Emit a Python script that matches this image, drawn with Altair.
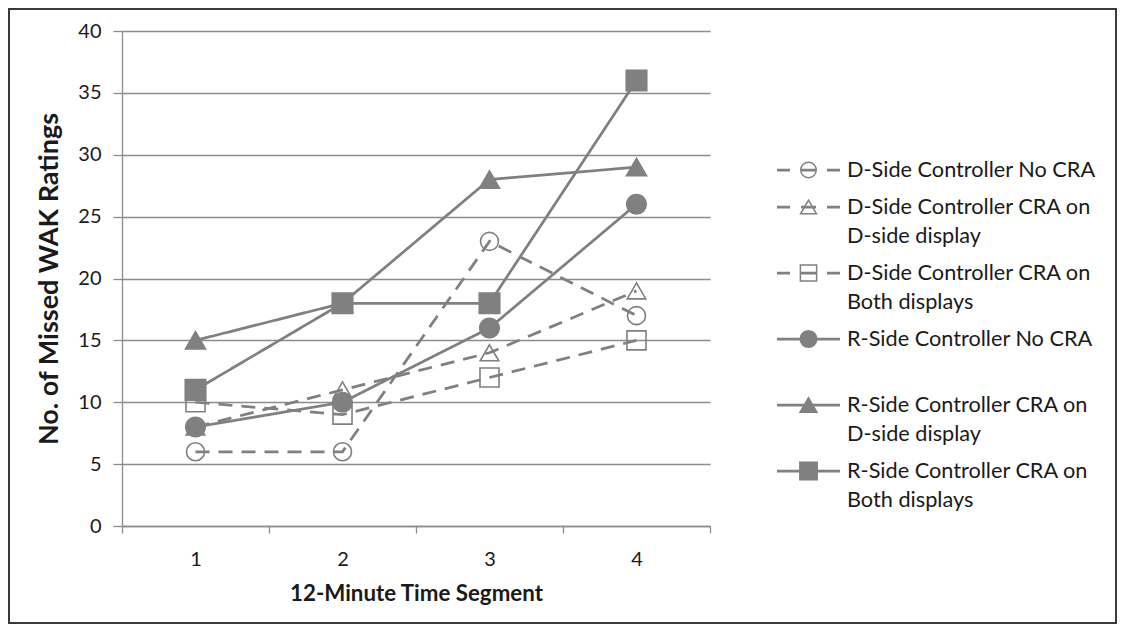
import altair as alt
import pandas as pd

# ---------------- data ----------------
segments = ["1", "2", "3", "4"]
series = [
    "D-Side Controller No CRA",
    "D-Side Controller CRA on D-side display",
    "D-Side Controller CRA on Both displays",
    "R-Side Controller No CRA",
    "R-Side Controller CRA on D-side display",
    "R-Side Controller CRA on Both displays",
]
d_no_cra = [6, 6, 23, 17]
d_cra_dside = [8, 11, 14, 19]
d_cra_both = [10, 9, 12, 15]
r_no_cra = [8, 10, 16, 26]
r_cra_dside = [15, 18, 28, 29]
r_cra_both = [11, 18, 18, 36]
legend_lines = [
    ["D-Side Controller No CRA"],
    ["D-Side Controller CRA on", "D-side display"],
    ["D-Side Controller CRA on", "Both displays"],
    ["R-Side Controller No CRA", ""],
    ["R-Side Controller CRA on", "D-side display"],
    ["R-Side Controller CRA on", "Both displays"],
]
y_ticks = [0, 5, 10, 15, 20, 25, 30, 35, 40]

# ---------------- styles ----------------
GRAY = "#808080"
AXIS_GRAY = "#8c8c8c"
TXT = "#1a1a1a"
FONT = "Lato"
W, H = 588, 495
shapes = ["circle", "triangle-up", "square", "circle", "triangle-up", "square"]
fills = ["transparent"] * 3 + [GRAY] * 3
sizes = [324, 420, 324, 324, 420, 324]
leg_sizes = [240, 300, 240, 240, 300, 240]
dash_plot = [[14, 9]] * 3 + [[1, 0]] * 3
dash_leg = [[13, 11, 15, 11, 13, 300]] * 3 + [[1, 0]] * 3
LEG_TOP, LINE_H, GAP = 139, 29, 8

values = [d_no_cra, d_cra_dside, d_cra_both, r_no_cra, r_cra_dside, r_cra_both]
rows = []
for s, vals in zip(series, values):
    for seg, v in zip(segments, vals):
        rows.append({"series": s, "seg": seg, "value": v})
df = pd.DataFrame(rows)

# legend tables
leg_rows, leg_text = [], []
pos = LEG_TOP
for s, lines in zip(series, legend_lines):
    leg_rows.append({"series": s, "ly": pos, "lx0": 0, "lx1": 1, "lxm": 0.5})
    for i, t in enumerate(lines):
        leg_text.append({"ly": pos + i * LINE_H, "lx": 1, "text": t})
    pos += len(lines) * LINE_H + GAP
leg_df = pd.DataFrame(leg_rows)
leg_text_df = pd.DataFrame(leg_text)

# ---------------- plot ----------------
x_enc = alt.X(
    "seg:O",
    scale=alt.Scale(type="band", domain=segments, paddingInner=0, paddingOuter=0),
    bandPosition=0.5,
    axis=alt.Axis(
        tickBand="extent", labelAngle=0, tickSize=7, labelPadding=16, grid=False,
        domainColor=AXIS_GRAY, tickColor=AXIS_GRAY, domainWidth=1.3, tickWidth=1.3,
        labelFont=FONT, labelFontSize=20, labelColor=TXT,
        title="12-Minute Time Segment", titleFont=FONT, titleFontSize=22.3,
        titleFontWeight="bold", titleColor=TXT, titlePadding=13,
    ),
)
y_enc = alt.Y(
    "value:Q",
    scale=alt.Scale(domain=[0, 40], nice=False),
    axis=alt.Axis(
        values=y_ticks, tickSize=9, labelPadding=12, grid=True,
        gridColor=AXIS_GRAY, gridWidth=1.3, domainColor=AXIS_GRAY, tickColor=AXIS_GRAY,
        domainWidth=1.3, tickWidth=1.3,
        labelFont=FONT, labelFontSize=20, labelColor=TXT,
        title="No. of Missed WAK Ratings", titleFont=FONT, titleFontSize=27,
        titleFontWeight="bold", titleColor=TXT, titlePadding=14,
    ),
)

base = alt.Chart(df)
lines_layer = base.mark_line(color=GRAY, strokeWidth=2.75).encode(
    x=x_enc, y=y_enc, detail="series:N",
    strokeDash=alt.StrokeDash("series:N", scale=alt.Scale(domain=series, range=dash_plot), legend=None),
)
points_layer = base.mark_point(stroke=GRAY, strokeWidth=1.6, opacity=1).encode(
    x=x_enc, y=y_enc,
    shape=alt.Shape("series:N", scale=alt.Scale(domain=series, range=shapes), legend=None),
    fill=alt.Fill("series:N", scale=alt.Scale(domain=series, range=fills), legend=None),
    size=alt.Size("series:N", scale=alt.Scale(domain=series, range=sizes), legend=None),
)
plot = alt.layer(lines_layer, points_layer)

# ---------------- legend ----------------
lx_scale = alt.Scale(domain=[0, 1], range=[655, 718])
ly_scale = alt.Scale(domain=[0, H], range=[0, H])
leg_base = alt.Chart(leg_df)
leg_rule = leg_base.mark_rule(color=GRAY, strokeWidth=2.75).encode(
    x=alt.X("lx0:Q", scale=lx_scale, axis=None),
    x2="lx1:Q",
    y=alt.Y("ly:Q", scale=ly_scale, axis=None),
    strokeDash=alt.StrokeDash("series:N", scale=alt.Scale(domain=series, range=dash_leg), legend=None),
)
leg_pts = leg_base.mark_point(stroke=GRAY, strokeWidth=1.5, opacity=1).encode(
    x=alt.X("lxm:Q", scale=lx_scale, axis=None),
    y=alt.Y("ly:Q", scale=ly_scale, axis=None),
    shape=alt.Shape("series:N", scale=alt.Scale(domain=series, range=shapes), legend=None),
    fill=alt.Fill("series:N", scale=alt.Scale(domain=series, range=fills), legend=None),
    size=alt.Size("series:N", scale=alt.Scale(domain=series, range=leg_sizes), legend=None),
)
leg_txt = alt.Chart(leg_text_df).mark_text(
    align="left", baseline="middle", dx=7, font=FONT, fontSize=21.7, color=TXT
).encode(
    x=alt.X("lx:Q", scale=lx_scale, axis=None),
    y=alt.Y("ly:Q", scale=ly_scale, axis=None),
    text="text:N",
)
legend = alt.layer(leg_rule, leg_pts, leg_txt)

# ---------------- outer frame ----------------
frame = alt.Chart(pd.DataFrame({"f": [0]})).mark_rect(
    fill="white", fillOpacity=0, stroke="#3a3a3a", strokeWidth=2
).encode(
    x=alt.value(-113), x2=alt.value(994), y=alt.value(-22), y2=alt.value(592)
)

chart = (
    alt.layer(frame, plot, legend)
    .resolve_scale(x="independent", y="independent", strokeDash="independent",
                   shape="independent", fill="independent", size="independent")
    .properties(width=W, height=H, padding=0, background="white")
    .configure_view(strokeWidth=0)
)

chart.save("out.html", embed_options={"renderer": "svg", "actions": False})
